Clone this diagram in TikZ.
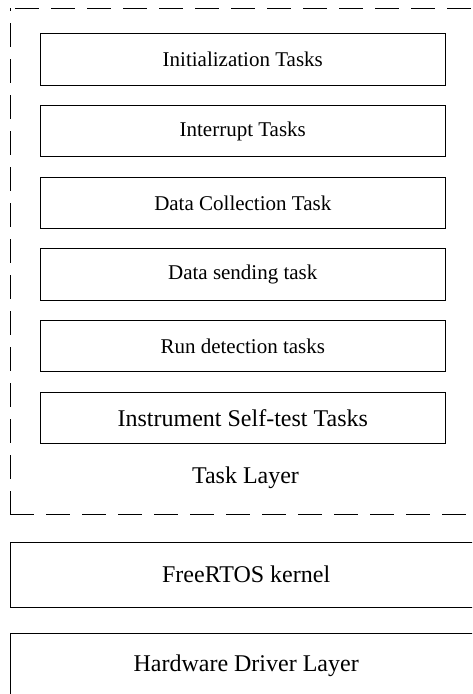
\documentclass[tikz,border=0pt]{standalone}
\usepackage{fontspec}
\setmainfont{Liberation Serif}
\begin{document}
\begin{tikzpicture}[x=1pt,y=-1pt,
  taskbox/.style={draw=black, line width=1pt, minimum width=404.5pt, minimum height=51.3pt, inner sep=0pt, font=\fontsize{21}{25}\selectfont},
  bigtaskbox/.style={taskbox, font=\fontsize{24}{28}\selectfont},
  layerbox/.style={draw=black, line width=1pt, minimum width=471.7pt, minimum height=65pt, inner sep=0pt, font=\fontsize{24}{28}\selectfont},
  layerlabel/.style={inner sep=0pt, font=\fontsize{24}{28}\selectfont},
  frame/.style={draw=black, line width=1pt, dash pattern=on 24pt off 12pt}
]
\useasboundingbox (0,0) rectangle (472,694);
\clip (0,0) rectangle (472,694);
% task layer frame
\draw[frame] (10.3,514.5) -- (10.3,8.3);
\draw[frame] (10.3,514.5) -- (481,514.5);
\draw[frame, dash phase=31.3pt] (10.3,8.3) -- (481,8.3);
\draw[frame] (481,8.3) -- (481,514.5);
% tasks
\node[taskbox] (t1) at (242.75,59.5) {Initialization Tasks};
\node[taskbox] (t2) at (242.75,131.2) {Interrupt Tasks};
\node[taskbox] (t3) at (242.75,202.9) {Data Collection Task};
\node[taskbox] (t4) at (242.75,274.6) {Data sending task};
\node[taskbox] (t5) at (242.75,346.3) {Run detection tasks};
\node[bigtaskbox] (t6) at (242.75,418) {Instrument Self-test Tasks};
\node[layerlabel] (layer) at (245.5,477.5) {Task Layer};
% lower layers
\node[layerbox] (kernel) at (246.15,574.5) {FreeRTOS kernel};
\node[layerbox] (hw) at (246.15,666.2) {Hardware Driver Layer};
\end{tikzpicture}
\end{document}
